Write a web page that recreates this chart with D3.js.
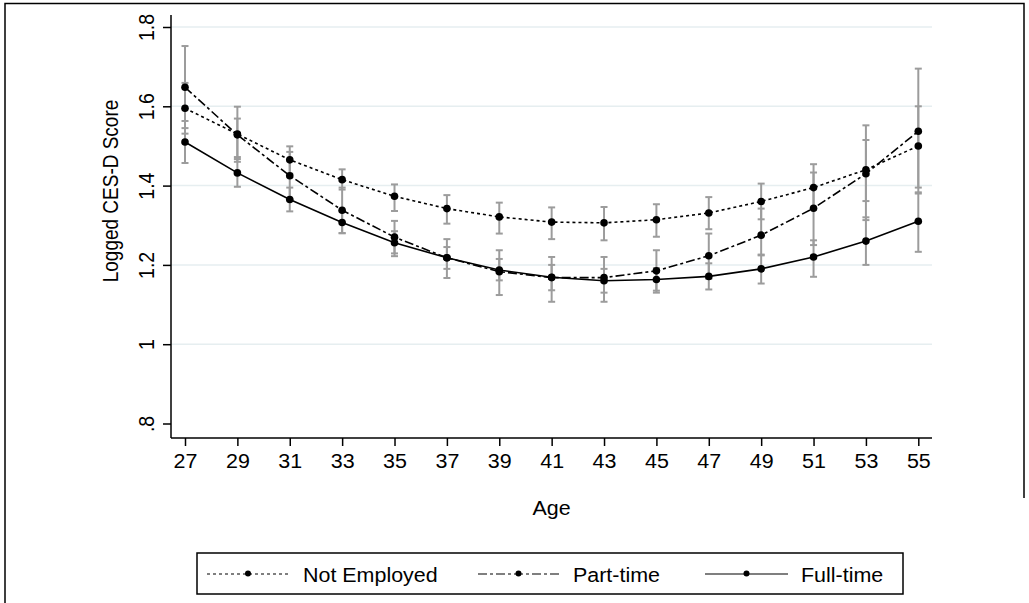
<!DOCTYPE html>
<html>
<head>
<meta charset="utf-8">
<script src="https://cdn.jsdelivr.net/npm/d3@7"></script>
<style>
  html, body { margin: 0; padding: 0; background: #fff; }
  svg text { font-family: "Liberation Sans", Arial, sans-serif; fill: #000; }
</style>
</head>
<body>
<svg id="chart" width="1029" height="603"></svg>
<script>
// ---- data ----
const ages = [27, 29, 31, 33, 35, 37, 39, 41, 43, 45, 47, 49, 51, 53, 55];
const yTicks = [0.8, 1.0, 1.2, 1.4, 1.6, 1.8];
const yTickLabels = [".8", "1", "1.2", "1.4", "1.6", "1.8"];
const seriesNames = ["Not Employed", "Part-time", "Full-time"];

const notEmployed   = [1.595, 1.530, 1.465, 1.415, 1.373, 1.342, 1.321, 1.308, 1.306, 1.314, 1.331, 1.360, 1.395, 1.440, 1.500];
const notEmployedLo = [1.531, 1.472, 1.430, 1.390, 1.336, 1.304, 1.279, 1.265, 1.262, 1.271, 1.290, 1.315, 1.340, 1.361, 1.395];
const notEmployedHi = [1.659, 1.569, 1.499, 1.441, 1.403, 1.376, 1.357, 1.345, 1.346, 1.353, 1.371, 1.405, 1.454, 1.515, 1.600];

const partTime   = [1.648, 1.528, 1.425, 1.338, 1.270, 1.218, 1.183, 1.168, 1.168, 1.185, 1.223, 1.275, 1.343, 1.430, 1.537];
const partTimeLo = [1.545, 1.460, 1.365, 1.280, 1.222, 1.167, 1.124, 1.107, 1.107, 1.130, 1.165, 1.224, 1.250, 1.313, 1.380];
const partTimeHi = [1.752, 1.599, 1.485, 1.395, 1.311, 1.265, 1.237, 1.220, 1.220, 1.237, 1.279, 1.342, 1.433, 1.552, 1.695];

const fullTime   = [1.510, 1.432, 1.365, 1.307, 1.256, 1.218, 1.187, 1.169, 1.160, 1.163, 1.171, 1.190, 1.220, 1.260, 1.310];
const fullTimeLo = [1.457, 1.397, 1.335, 1.280, 1.229, 1.190, 1.161, 1.136, 1.130, 1.135, 1.138, 1.153, 1.170, 1.200, 1.233];
const fullTimeHi = [1.563, 1.467, 1.395, 1.335, 1.285, 1.245, 1.215, 1.200, 1.190, 1.192, 1.204, 1.226, 1.262, 1.320, 1.383];

// ---- layout ----
const svg = d3.select("#chart");
const x = d3.scaleLinear().domain([27, 55]).range([185, 918.3]);
const y = d3.scaleLinear().domain([0.8, 1.8]).range([423.5, 27]);
const plotLeft = 171, plotRight = 932, plotTop = 15, plotBottom = 438;
const FONT = "'Liberation Sans', Arial, sans-serif";

// outer frame
svg.append("path")
  .attr("d", "M5,603 L5,3.5 L1024,3.5 L1024,498")
  .attr("fill", "none").attr("stroke", "#000").attr("stroke-width", 1.5);

// gridlines
svg.append("g").selectAll("line")
  .data(yTicks.filter(v => v > 0.9))
  .join("line")
  .attr("x1", plotLeft).attr("x2", plotRight)
  .attr("y1", d => y(d)).attr("y2", d => y(d))
  .attr("stroke", "#e6eef0").attr("stroke-width", 1.5);

// y axis
const yAxis = d3.axisLeft(y).tickValues(yTicks)
  .tickFormat((d, i) => yTickLabels[i]).tickSize(8).tickPadding(5);
const gy = svg.append("g").attr("transform", `translate(${plotLeft},0)`).call(yAxis);
gy.select(".domain").attr("d", `M0,${plotTop}V${plotBottom}`).attr("stroke", "#000").attr("stroke-width", 1.5);
gy.selectAll(".tick line").attr("stroke", "#000").attr("stroke-width", 1.5);
gy.selectAll(".tick text")
  .attr("x", null).attr("dy", null)
  .attr("transform", "translate(-17,0) rotate(-90) scale(1,1.15)")
  .attr("text-anchor", "middle")
  .attr("y", 0)
  .style("font-size", "19.5px")
  .style("font-family", FONT);

// x axis
const xAxis = d3.axisBottom(x).tickValues(ages).tickFormat(d3.format("d")).tickSize(8).tickPadding(8);
const gx = svg.append("g").attr("transform", `translate(0,${plotBottom})`).call(xAxis);
gx.select(".domain").attr("d", `M${plotLeft},0H${plotRight}`).attr("stroke", "#000").attr("stroke-width", 1.5);
gx.selectAll(".tick line").attr("stroke", "#000").attr("stroke-width", 1.5);
gx.selectAll(".tick text")
  .attr("transform", "scale(1.1,1)")
  .style("font-size", "19.5px")
  .style("font-family", FONT);

// axis titles
svg.append("text")
  .attr("transform", `translate(118,191) rotate(-90) scale(1,1.12)`)
  .attr("text-anchor", "middle")
  .style("font-size", "19px")
  .text("Logged CES-D Score");
svg.append("text")
  .attr("transform", `translate(${(plotLeft + plotRight) / 2},515) scale(1.1,1)`)
  .attr("text-anchor", "middle")
  .style("font-size", "19.5px")
  .text("Age");

// ---- series ----
const series = [
  { name: seriesNames[0], mean: notEmployed, lo: notEmployedLo, hi: notEmployedHi, dash: "3,3" },
  { name: seriesNames[1], mean: partTime, lo: partTimeLo, hi: partTimeHi, dash: "9,3,3,3" },
  { name: seriesNames[2], mean: fullTime, lo: fullTimeLo, hi: fullTimeHi, dash: null }
];

// error bars
const ebColor = "#9c9c9c";
series.forEach(s => {
  const g = svg.append("g");
  ages.forEach((a, i) => {
    const cx = x(a);
    g.append("line").attr("x1", cx).attr("x2", cx)
      .attr("y1", y(s.lo[i])).attr("y2", y(s.hi[i]))
      .attr("stroke", ebColor).attr("stroke-width", 2);
    [s.lo[i], s.hi[i]].forEach(v => {
      g.append("line").attr("x1", cx - 3.5).attr("x2", cx + 3.5)
        .attr("y1", y(v)).attr("y2", y(v))
        .attr("stroke", ebColor).attr("stroke-width", 2);
    });
  });
});

// lines and markers
const line = d3.line().x((d, i) => x(ages[i])).y(d => y(d));
series.forEach(s => {
  svg.append("path").datum(s.mean)
    .attr("d", line)
    .attr("fill", "none").attr("stroke", "#000").attr("stroke-width", 1.6)
    .attr("stroke-dasharray", s.dash);
  svg.append("g").selectAll("circle").data(s.mean).join("circle")
    .attr("cx", (d, i) => x(ages[i])).attr("cy", d => y(d))
    .attr("r", 3.8).attr("fill", "#000");
});

// ---- legend ----
svg.append("rect")
  .attr("x", 197).attr("y", 553).attr("width", 706).attr("height", 41)
  .attr("fill", "#fff").attr("stroke", "#000").attr("stroke-width", 1.5);
const legendItems = [
  { x1: 207, x2: 289, tx: 303 },
  { x1: 478, x2: 559, tx: 573 },
  { x1: 705, x2: 788, tx: 801 }
];
series.forEach((s, i) => {
  const L = legendItems[i];
  const ly = 574;
  svg.append("line").attr("x1", L.x1).attr("x2", L.x2).attr("y1", ly).attr("y2", ly)
    .attr("stroke", "#000").attr("stroke-width", 1.2).attr("stroke-dasharray", s.dash);
  svg.append("circle").attr("cx", (L.x1 + L.x2) / 2).attr("cy", ly - 0.5).attr("r", 3).attr("fill", "#000");
  svg.append("text")
    .attr("transform", `translate(${L.tx},582) scale(1.1,1)`)
    .style("font-size", "19.5px").text(s.name);
});
</script>
</body>
</html>
